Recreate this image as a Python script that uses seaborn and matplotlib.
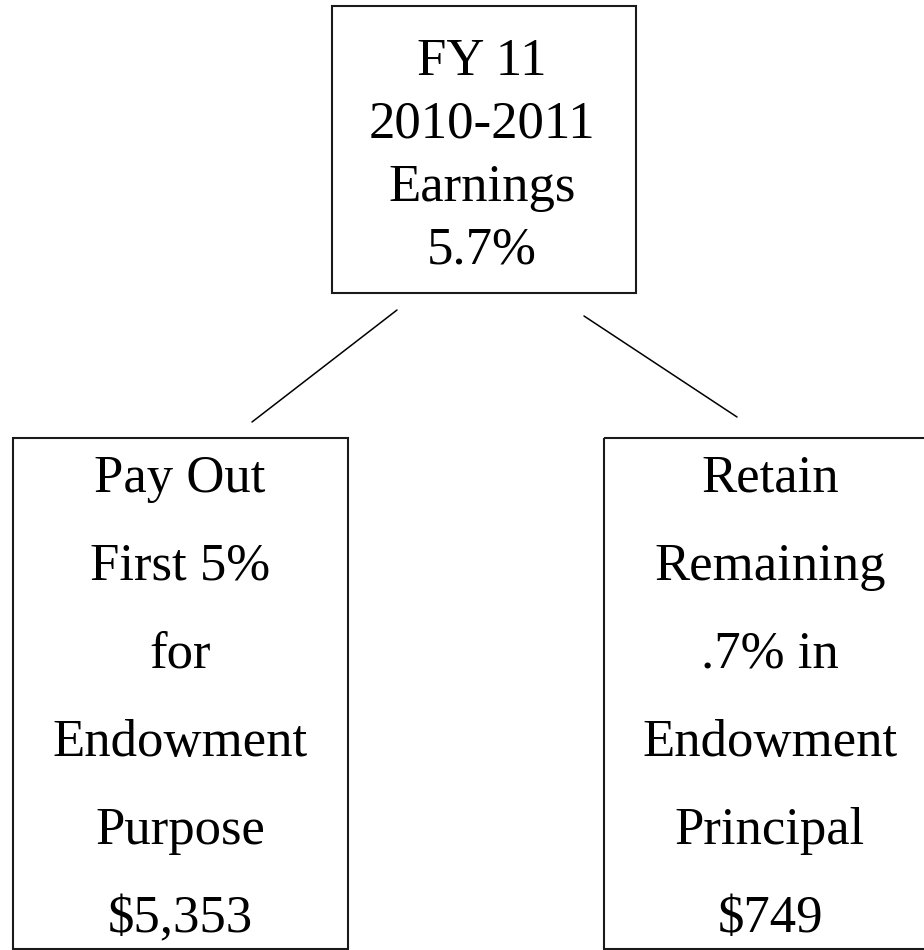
import matplotlib
matplotlib.use("Agg")
import matplotlib.pyplot as plt
from matplotlib.patches import Rectangle
import seaborn as sns

# box texts
top_lines = ["FY 11", "2010-2011", "Earnings", "5.7%"]
left_lines = ["Pay Out", "First 5%", "for", "Endowment", "Purpose", "$5,353"]
right_lines = ["Retain", "Remaining", ".7% in", "Endowment", "Principal", "$749"]

sns.set_style("white")
plt.rcParams['font.family'] = ['Liberation Serif', 'DejaVu Serif']

fig = plt.figure(figsize=(9.24, 9.5), dpi=100)
ax = fig.add_axes([0, 0, 1, 1])
ax.set_xlim(0, 924)
ax.set_ylim(950, 0)
ax.axis("off")

# boxes: (x, y, w, h) in pixel coords, text centre x, first baseline, line step
boxes = [
    ((332, 6, 304, 287), 482, 75, 63, top_lines),
    ((13, 438, 335, 511), 180, 492, 88, left_lines),
    ((604, 438, 334, 511), 770, 492, 88, right_lines),
]

for (x, y, w, h), cx, base, step, lines in boxes:
    ax.add_patch(Rectangle((x, y), w, h, fill=False, edgecolor="#1a1a1a",
                           linewidth=1.5, clip_on=False))
    for i, t in enumerate(lines):
        ax.text(cx, base + step * i, t, ha="center", va="baseline",
                fontsize=38, color="black")

# connectors
ax.plot([397, 252], [310, 422], color="black", linewidth=1.1)
ax.plot([584, 737], [316, 417], color="black", linewidth=1.1)

fig.savefig("out.png", dpi=100, facecolor="white")
